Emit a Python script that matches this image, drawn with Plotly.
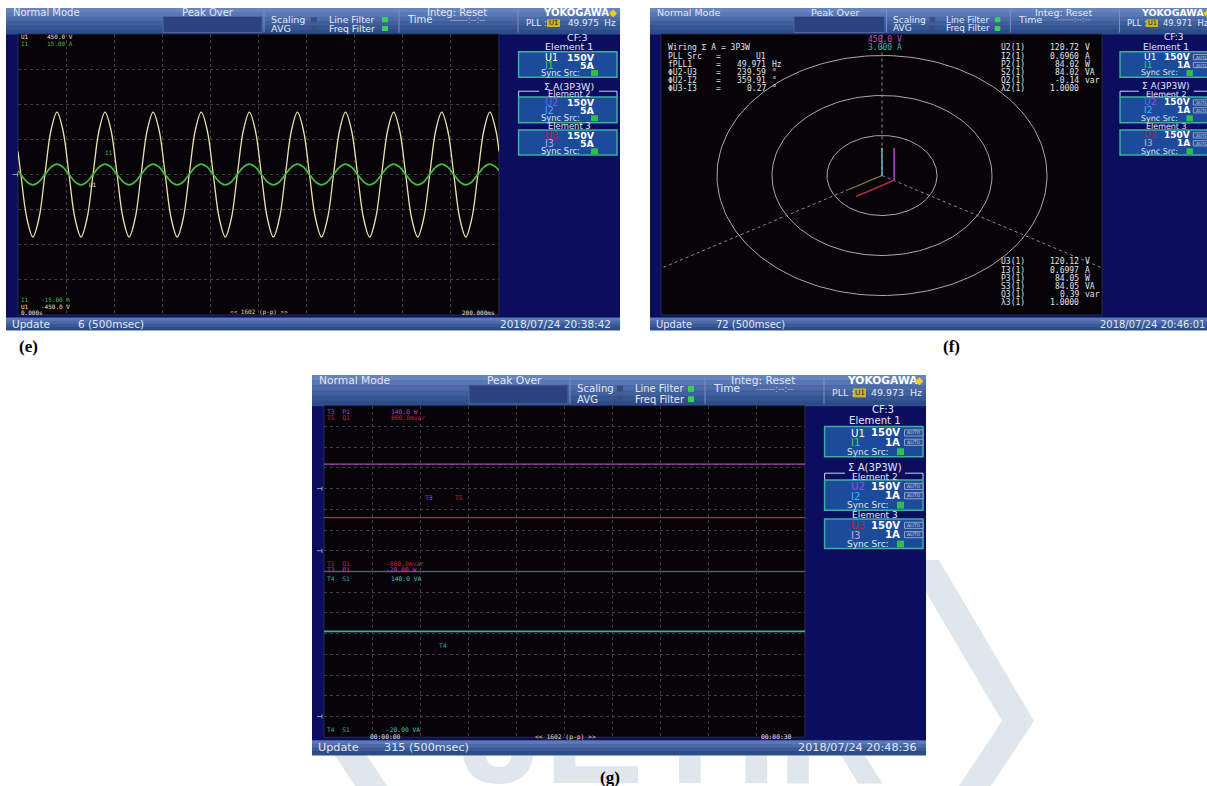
import math
import plotly.graph_objects as go

# ---------------------------------------------------------------------------
# (e) waveform display: U1 / I1 over one 200 ms sweep
# ---------------------------------------------------------------------------
wave_t_ms = [0.0,
             1.2, 3.7, 6.2, 8.7, 11.2, 13.7, 16.2, 18.7,
             21.2, 23.7, 26.2, 28.7, 31.2, 33.7, 36.2, 38.7,
             41.2, 43.7, 46.2, 48.7, 51.2, 53.7, 56.2, 58.7,
             61.2, 63.7, 66.2, 68.7, 71.2, 73.7, 76.2, 78.7,
             81.2, 83.7, 86.2, 88.7, 91.2, 93.7, 96.2, 98.7,
             101.2, 103.7, 106.2, 108.7, 111.2, 113.7, 116.2, 118.7,
             121.2, 123.7, 126.2, 128.7, 131.2, 133.7, 136.2, 138.7,
             141.2, 143.7, 146.2, 148.7, 151.2, 153.7, 156.2, 158.7,
             161.2, 163.7, 166.2, 168.7, 171.2, 173.7, 176.2, 178.7,
             181.2, 183.7, 186.2, 188.7, 191.2, 193.7, 196.2, 198.7,
             200.0]
u1_volts = [74,
            0, -141, -200, -141, 0, 141, 200, 141,
            0, -141, -200, -141, 0, 141, 200, 141,
            0, -141, -200, -141, 0, 141, 200, 141,
            0, -141, -200, -141, 0, 141, 200, 141,
            0, -141, -200, -141, 0, 141, 200, 141,
            0, -141, -200, -141, 0, 141, 200, 141,
            0, -141, -200, -141, 0, 141, 200, 141,
            0, -141, -200, -141, 0, 141, 200, 141,
            0, -141, -200, -141, 0, 141, 200, 141,
            0, -141, -200, -141, 0, 141, 200, 141,
            74]
i1_amps = [0.41,
           0, -0.78, -1.1, -0.78, 0, 0.78, 1.1, 0.78,
           0, -0.78, -1.1, -0.78, 0, 0.78, 1.1, 0.78,
           0, -0.78, -1.1, -0.78, 0, 0.78, 1.1, 0.78,
           0, -0.78, -1.1, -0.78, 0, 0.78, 1.1, 0.78,
           0, -0.78, -1.1, -0.78, 0, 0.78, 1.1, 0.78,
           0, -0.78, -1.1, -0.78, 0, 0.78, 1.1, 0.78,
           0, -0.78, -1.1, -0.78, 0, 0.78, 1.1, 0.78,
           0, -0.78, -1.1, -0.78, 0, 0.78, 1.1, 0.78,
           0, -0.78, -1.1, -0.78, 0, 0.78, 1.1, 0.78,
           0, -0.78, -1.1, -0.78, 0, 0.78, 1.1, 0.78,
           0.41]
u1_span = [-450.0, 450.0]
i1_span = [-15.0, 15.0]
sweep_ms = 200.0

# ---------------------------------------------------------------------------
# (f) vector display
# ---------------------------------------------------------------------------
phase_labels = ["PLL Src", "fPLL1", "ΦU2-U3", "ΦU2-I2", "ΦU3-I3"]
phase_values = ["U1", "49.971", "239.59", "359.91", "0.27"]
phase_units = ["", "Hz", "°", "°", "°"]
phase_deg = {"U2-U3": 239.59, "U2-I2": 359.91, "U3-I3": 0.27}

elem2_labels = ["U2(1)", "I2(1)", "P2(1)", "S2(1)", "Q2(1)", "λ2(1)"]
elem2_values = ["120.72", "0.6960", "84.02", "84.02", "-0.14", "1.0000"]
elem3_labels = ["U3(1)", "I3(1)", "P3(1)", "S3(1)", "Q3(1)", "λ3(1)"]
elem3_values = ["120.12", "0.6997", "84.05", "84.05", "0.39", "1.0000"]
meas_units = ["V", "A", "W", "VA", "var", ""]
vector_full_scale = {"V": 450.0, "A": 3.000}

# ---------------------------------------------------------------------------
# (g) trend display, 30 s window
# ---------------------------------------------------------------------------
trend_t_s = [0, 5, 10, 15, 20, 25, 30]
p1_watts = [83.6, 83.6, 83.6, 83.6, 83.6, 83.6, 83.6]
q1_var = [-0.28, -0.28, -0.28, -0.28, -0.28, -0.28, -0.28]
s1_va = [82.2, 82.2, 82.2, 82.2, 82.2, 82.2, 82.2]
p1_span = [-20.0, 140.0]
q1_span = [-0.8, 0.8]
s1_span = [-20.0, 140.0]
trend_ticks = ["00:00:00", "00:00:30"]

# ---------------------------------------------------------------------------
W, H = 1207, 786
UI = "DejaVu Sans"
MONO = "DejaVu Sans Mono"
SERIF = "Liberation Serif"
NAVY = "#0b0d5e"
PLOT_BG = "#060409"
TXT = "#e2e6f5"
HEADER_SHADES = ["#6684be", "#5978b3", "#4c6ba8", "#40609d", "#365692", "#2d4c8a"]
STATUS_SHADES = ["#5a79b6", "#4a69a6", "#3a5996", "#2d4c88"]
GRID = "#3e3e3e"

C_U1, C_I1 = "#ece2a8", "#48b848"
C_P, C_Q, C_S = "#b640c4", "#c8233f", "#3fa9a2"

shapes, annos = [], []


def fx(x):
    return x / W


def fy(y):
    return 1 - y / H


def rect(x0, y0, x1, y1, fill, line=None, lw=1):
    shapes.append(dict(type="rect", xref="paper", yref="paper", layer="below",
                       x0=fx(x0), x1=fx(x1), y0=fy(y1), y1=fy(y0), fillcolor=fill,
                       line=dict(color=line if line else fill, width=lw if line else 0)))


def seg(x0, y0, x1, y1, color, lw=1, dash="solid"):
    shapes.append(dict(type="line", xref="paper", yref="paper", layer="below",
                       x0=fx(x0), y0=fy(y0), x1=fx(x1), y1=fy(y1),
                       line=dict(color=color, width=lw, dash=dash)))


def poly(pts, fill):
    path = "M " + " L ".join(f"{fx(a):.5f},{fy(b):.5f}" for a, b in pts) + " Z"
    shapes.append(dict(type="path", xref="paper", yref="paper", layer="below",
                       path=path, fillcolor=fill, line=dict(width=0)))


def label(x, y, s, color=TXT, size=9.3, anchor="left", family=UI):
    annos.append(dict(xref="paper", yref="paper", x=fx(x), y=fy(y), text=s,
                      showarrow=False, xanchor=anchor, yanchor="middle", borderpad=0,
                      font=dict(family=family, size=size, color=color)))


class Panel:
    def __init__(self, ox, oy, sx, sy, fs):
        self.ox, self.oy, self.sx, self.sy, self.fs = ox, oy, sx, sy, fs

    def x(self, r):
        return self.ox + r * self.sx

    def y(self, r):
        return self.oy + r * self.sy

    def plot_box(self):
        return self.x(12), self.y(26), self.x(493), self.y(307)


def element_box(p, top, bottom, uname, ucol, iname, icol, irange, auto):
    X, Y, k = p.x, p.y, p.fs
    rect(X(512.6), Y(top), X(611), Y(bottom), "#1d4b9b", line="#3daf9d", lw=1.5)
    label(X(538), Y(top + 5.4), uname, ucol, 9.6 * k)
    label(X(589.5), Y(top + 5.4), "<b>150V</b>", "#ffffff", 9.5 * k, "right")
    label(X(538), Y(top + 13.3), iname, icol, 9.6 * k)
    label(X(589.5), Y(top + 13.3), f"<b>{irange}</b>", "#ffffff", 9.5 * k, "right")
    label(X(534), Y(top + 21.2), "Sync Src:", "#dfe4f6", 8.4 * k)
    rect(X(585), Y(top + 18.4), X(592), Y(top + 24.2), "#2fbf4c")
    if auto:
        for r in (5.4, 13.3):
            rect(X(592.5), Y(top + r - 2.6), X(611), Y(top + r + 2.6), "#2a4f96",
                 line="#a9b6d6", lw=0.8)
            label(X(601.7), Y(top + r), "AUTO", "#c5cde6", 4.4 * k, "center")


def chrome(p, pll, update_no, stamp, irange, auto):
    X, Y, k = p.x, p.y, p.fs
    hs = 10.0 * k
    rect(X(0), Y(0), X(614), Y(322), NAVY)
    n = len(HEADER_SHADES)
    for i, c in enumerate(HEADER_SHADES):
        rect(X(0), Y(26 * i / n), X(614), Y(26 * (i + 1) / n) + 0.6, c)
    n = len(STATUS_SHADES)
    for i, c in enumerate(STATUS_SHADES):
        rect(X(0), Y(309.5 + 12.5 * i / n), X(614), Y(309.5 + 12.5 * (i + 1) / n) + 0.6, c)
    x0, y0, x1, y1 = p.plot_box()
    rect(x0, y0, x1, y1, PLOT_BG, line="#2a2a55", lw=1)

    # header
    for r in (258, 393, 512):
        seg(X(r), Y(1.5), X(r), Y(24.5), "#7a90c4")
    rect(X(157), Y(8.5), X(256), Y(24.5), "#2a4380", line="#4d64a0")
    label(X(6), Y(4.6), "Normal Mode", size=hs)
    label(X(202), Y(4.6), "Peak Over", size=hs, anchor="center")
    label(X(264), Y(11.8), "Scaling", size=hs * 0.95)
    label(X(264), Y(20.4), "AVG", size=hs * 0.95)
    rect(X(305), Y(9.2), X(311), Y(14.2), "#3b4d80")
    rect(X(305), Y(18), X(311), Y(23), "#3b4d80")
    label(X(322), Y(11.8), "Line Filter", size=hs * 0.93)
    label(X(322), Y(20.4), "Freq Filter", size=hs * 0.93)
    rect(X(376), Y(9.2), X(382), Y(14.2), "#3ad060")
    rect(X(376), Y(18), X(382), Y(23), "#3ad060")
    label(X(400), Y(11.8), "Time", size=hs)
    label(X(451), Y(4.6), "Integ: Reset", size=hs, anchor="center")
    label(X(443), Y(11.8), "------:--:--", "#a8b4d8", hs * 0.82)
    label(X(570), Y(4.6), "<b>YOKOGAWA</b>", "#ffffff", hs, "center")
    label(X(607), Y(4.6), "◆", "#f2cc1a", hs, "center")
    label(X(519), Y(15.2), "PLL :", size=hs * 0.88)
    rect(X(541), Y(11.4), X(554), Y(19), "#c9b52a")
    label(X(547.5), Y(15.2), "U1", "#1a1a1a", hs * 0.68, "center")
    label(X(611), Y(15.2), f"{pll}  Hz", size=hs * 0.88, anchor="right")

    # status bar
    label(X(5), Y(316), "Update", size=hs * 1.05)
    label(X(71), Y(316), f"{update_no} (500msec)", size=hs * 1.05)
    label(X(606), Y(316), stamp, size=hs * 1.05, anchor="right")

    # range panel on the right
    label(X(571), Y(29.2), "CF:3", size=hs * 0.95, anchor="center")
    label(X(563), Y(38.6), "Element 1", size=hs * 0.95, anchor="center")
    element_box(p, 43.7, 69.3, "U1", "#ffffff", "I1", "#3ccc55", irange, auto)
    label(X(563), Y(78.4), "Σ A(3P3W)", size=hs * 0.95, anchor="center")
    seg(X(512.6), Y(83.2), X(533), Y(83.2), "#cdd5ef")
    seg(X(593), Y(83.2), X(611), Y(83.2), "#cdd5ef")
    seg(X(512.6), Y(83.2), X(512.6), Y(89), "#cdd5ef")
    seg(X(611), Y(83.2), X(611), Y(89), "#cdd5ef")
    label(X(563), Y(86.4), "Element 2", size=hs * 0.84, anchor="center")
    element_box(p, 89, 114.7, "U2", "#9b45e6", "I2", "#2fb6f5", irange, auto)
    label(X(563), Y(118.4), "Element 3", size=hs * 0.84, anchor="center")
    element_box(p, 122, 147, "U3", "#b4223c", "I3", "#c3a9cf", irange, auto)


def ground_mark(x, y):
    seg(x, y, x + 5, y, "#9a9a9a", 1)
    seg(x + 5, y - 2, x + 5, y + 2, "#9a9a9a", 1)


def fmt(v, unit):
    return f"{v:.1f} {unit}" if abs(v) >= 100 else f"{v:.2f} {unit}"


# ---------------------------------------------------------------------------
# page background lettering and chevrons (behind everything)
# ---------------------------------------------------------------------------
WM = "#e0e7ec"
poly([(907, 560), (939, 560), (1034, 721), (991, 786), (959, 786), (1002, 721)], WM)
poly([(439, 560), (407, 560), (312, 721), (355, 786), (387, 786), (344, 721)], WM)

# ---------------------------------------------------------------------------
pe = Panel(6, 8, 1.0, 1.0, 1.0)
pf = Panel(650, 8, 0.917, 1.0, 0.95)
pg = Panel(312, 375, 1.0, 1.18, 1.07)

chrome(pe, "49.975", 6, "2018/07/24 20:38:42", "5A", False)
chrome(pf, "49.971", 72, "2018/07/24 20:46:01", "1A", True)
chrome(pg, "49.973", 315, "2018/07/24 20:48:36", "1A", True)

fig = go.Figure()

# ---- (e) waveforms ----
ex0, ey0, ex1, ey1 = pe.plot_box()
fig.add_trace(go.Scatter(x=wave_t_ms, y=u1_volts, mode="lines", xaxis="x", yaxis="y",
                         line=dict(color=C_U1, width=1.3, shape="spline", smoothing=1.0),
                         hoverinfo="skip"))
fig.add_trace(go.Scatter(x=wave_t_ms, y=i1_amps, mode="lines", xaxis="x", yaxis="y7",
                         line=dict(color=C_I1, width=1.7, shape="spline", smoothing=1.0),
                         hoverinfo="skip"))
SM = 6.0
label(20, 36.8, "U1", C_U1, SM, family=MONO)
label(46, 36.8, fmt(u1_span[1], "V"), C_U1, SM, family=MONO)
label(20, 43.6, "I1", C_I1, SM, family=MONO)
label(46, 43.6, fmt(i1_span[1], "A"), C_I1, SM, family=MONO)
label(20, 299.6, "I1", C_I1, SM, family=MONO)
label(40, 299.6, fmt(i1_span[0], "A"), C_I1, SM, family=MONO)
label(20, 306, "U1", C_U1, SM, family=MONO)
label(40, 306, fmt(u1_span[0], "V"), C_U1, SM, family=MONO)
label(20, 312.3, "0.000s", "#e8e8e8", SM, family=MONO)
label(259, 312.3, "<< 1602 (p-p) >>", "#e4dba2", SM, "center", MONO)
label(496, 312.3, f"{sweep_ms:.3f}ms", "#e8e8e8", SM, "right", MONO)
label(104, 153, "I1", C_I1, SM, family=MONO)
label(88, 184, "U1", C_U1, SM, family=MONO)
ground_mark(12.5, (ey0 + ey1) / 2)

# ---- (f) vector diagram ----
fx0, fy0, fx1, fy1 = pf.plot_box()
f_cx, f_cy = 882.0, 175.5          # diagram centre on the page
f_ux, f_uy = 55.0, 40.0            # page pixels per ring step
f_xr = [(fx0 - f_cx) / f_ux, (fx1 - f_cx) / f_ux]
f_yr = [(f_cy - fy1) / f_uy, (f_cy - fy0) / f_uy]

ring_t = [i * 2 * math.pi / 180 for i in range(181)]
for r in (1, 2, 3):
    fig.add_trace(go.Scatter(x=[r * math.cos(t) for t in ring_t],
                             y=[r * math.sin(t) for t in ring_t],
                             mode="lines", xaxis="x2", yaxis="y2",
                             line=dict(color="#a9a9a9", width=1), hoverinfo="skip"))
for ang in (90, 210, 330):
    a = math.radians(ang)
    reach = 9.0
    fig.add_trace(go.Scatter(x=[0, reach * math.cos(a)], y=[0, reach * math.sin(a)],
                             mode="lines", xaxis="x2", yaxis="y2", cliponaxis=True,
                             line=dict(color="#8e8e8e", width=1, dash="dot"),
                             hoverinfo="skip"))

u2_mag = float(elem2_values[0]) / vector_full_scale["V"] * 3
u3_mag = float(elem3_values[0]) / vector_full_scale["V"] * 3
i2_mag = float(elem2_values[1]) / vector_full_scale["A"] * 3
i3_mag = float(elem3_values[1]) / vector_full_scale["A"] * 3
u2_ang = 90.0
u3_ang = u2_ang - phase_deg["U2-U3"]
i2_ang = u2_ang - phase_deg["U2-I2"]
i3_ang = u3_ang - phase_deg["U3-I3"]
u_origin = (0.22, -0.12)
vectors = [
    ((0.0, 0.0), i3_mag, i3_ang, "#8c7448", 1.2),
    ((0.0, 0.0), i2_mag, i2_ang, "#67b9c6", 1.5),
    (u_origin, u2_mag, u2_ang, "#b24ccc", 1.5),
    (u_origin, u3_mag, u3_ang, "#b02a3c", 1.5),
]
for (ox, oy), mag, ang, col, lw in vectors:
    a = math.radians(ang)
    fig.add_trace(go.Scatter(x=[ox, ox + mag * math.cos(a)], y=[oy, oy + mag * math.sin(a)],
                             mode="lines", xaxis="x2", yaxis="y2",
                             line=dict(color=col, width=lw), hoverinfo="skip"))

FS = 8.0
FC = "#e4e4e4"
label(885, 39.6, "450.0 V", "#c24fc4", FS, "center", MONO)
label(885, 47.8, "3.000 A", "#3db0b0", FS, "center", MONO)
label(667, 48, "Wiring Σ A = 3P3W", FC, FS, family=MONO)
for i, (lb, val, un) in enumerate(zip(phase_labels, phase_values, phase_units)):
    yy = 56.2 + 8.2 * i
    label(667, yy, lb, FC, FS, family=MONO)
    label(718, yy, "=", FC, FS, "center", MONO)
    label(767, yy, val, FC, FS, "right", MONO)
    if un:
        label(771, yy, un, FC, FS, family=MONO)
for i, (lb, val, un) in enumerate(zip(elem2_labels, elem2_values, meas_units)):
    yy = 48 + 8.2 * i
    label(1000, yy, lb, FC, FS, family=MONO)
    label(1080, yy, val, FC, FS, "right", MONO)
    label(1084, yy, un, FC, FS, family=MONO)
for i, (lb, val, un) in enumerate(zip(elem3_labels, elem3_values, meas_units)):
    yy = 262 + 8.2 * i
    label(1000, yy, lb, FC, FS, family=MONO)
    label(1080, yy, val, FC, FS, "right", MONO)
    label(1084, yy, un, FC, FS, family=MONO)

# ---- (g) trend windows ----
gx0, gy0, gx1, gy1 = pg.plot_box()
g_mid = (gy0 + gy1) / 2
fig.add_trace(go.Scatter(x=trend_t_s, y=p1_watts, mode="lines", xaxis="x3", yaxis="y3",
                         line=dict(color=C_P, width=1.4), hoverinfo="skip"))
fig.add_trace(go.Scatter(x=trend_t_s, y=q1_var, mode="lines", xaxis="x3", yaxis="y5",
                         line=dict(color=C_Q, width=1.4), hoverinfo="skip"))
fig.add_trace(go.Scatter(x=trend_t_s, y=s1_va, mode="lines", xaxis="x4", yaxis="y4",
                         line=dict(color=C_S, width=1.6), hoverinfo="skip"))
seg(gx0, g_mid, gx1, g_mid, "#5a5a5a", 1.5)

GS = 6.3
label(326, 411.5, "T3  P1", C_P, GS, family=MONO)
label(390, 411.5, fmt(p1_span[1], "W"), C_P, GS, family=MONO)
label(326, 417.8, "T5  Q1", C_Q, GS, family=MONO)
label(390, 417.8, f"{q1_span[1] * 1000:.1f}mvar", C_Q, GS, family=MONO)
label(326, 563.3, "T5  Q1", C_Q, GS, family=MONO)
label(385, 563.3, f"{q1_span[0] * 1000:.1f}mvar", C_Q, GS, family=MONO)
label(326, 569.6, "T3  P1", C_P, GS, family=MONO)
label(385, 569.6, fmt(p1_span[0], "W"), C_P, GS, family=MONO)
label(326, 578, "T4  S1", C_S, GS, family=MONO)
label(390, 578, fmt(s1_span[1], "VA"), "#55c0c0", GS, family=MONO)
label(326, 729.4, "T4  S1", C_S, GS, family=MONO)
label(385, 729.4, fmt(s1_span[0], "VA"), "#55c0c0", GS, family=MONO)
label(385, 736.9, trend_ticks[0], "#e8e8e8", GS, "center", MONO)
label(565, 736.9, "<< 1602 (p-p) >>", "#e4dba2", GS, "center", MONO)
label(777, 736.9, trend_ticks[1], "#e8e8e8", GS, "center", MONO)
label(424, 498, "T3", C_P, GS, family=MONO)
label(454, 498, "T5", C_Q, GS, family=MONO)
label(438, 645, "T4", C_S, GS, family=MONO)
for frac_top, frac_bottom, span in ((gy0, g_mid, q1_span), (gy0, g_mid, p1_span),
                                    (g_mid, gy1, s1_span)):
    zero_y = frac_bottom - (0 - span[0]) / (span[1] - span[0]) * (frac_bottom - frac_top)
    ground_mark(gx0 - 7, zero_y)

# ---- faint lettering at the foot of the page (clipped to the strip below (g)) ----
fig.add_trace(go.Scatter(x=[673], y=[-745], mode="text", text=["<b>JETIR</b>"],
                         textposition="middle center", cliponaxis=True,
                         textfont=dict(family="Liberation Sans", size=150, color=WM),
                         xaxis="x6", yaxis="y6", hoverinfo="skip"))

# ---- sub-figure captions ----
label(28, 346, "<b>(e)</b>", "#000000", 17, "center", SERIF)
label(951, 346, "<b>(f)</b>", "#000000", 17, "center", SERIF)
label(610, 777, "<b>(g)</b>", "#000000", 17, "center", SERIF)


def grid_axis(domain, rng, dtick, tick0, anchor, **kw):
    d = dict(domain=domain, range=rng, dtick=dtick, tick0=tick0, anchor=anchor,
             showgrid=True, gridcolor=GRID, griddash="dot", gridwidth=1,
             zeroline=False, showline=False, ticks="", showticklabels=False,
             fixedrange=True)
    d.update(kw)
    return d


def bare_axis(domain, rng, anchor, **kw):
    d = dict(domain=domain, range=rng, anchor=anchor, visible=False, fixedrange=True)
    d.update(kw)
    return d


fig.update_layout(
    width=W, height=H, margin=dict(l=0, r=0, t=0, b=0),
    paper_bgcolor="#ffffff", plot_bgcolor="rgba(0,0,0,0)", showlegend=False,
    shapes=shapes, annotations=annos,
    xaxis=grid_axis([fx(ex0), fx(ex1)], [0, sweep_ms], sweep_ms / 10, 0, "y"),
    yaxis=grid_axis([fy(ey1), fy(ey0)], u1_span, (u1_span[1] - u1_span[0]) / 8, 0, "x"),
    yaxis7=bare_axis([fy(ey1), fy(ey0)], i1_span, "x", overlaying="y"),
    xaxis2=bare_axis([fx(fx0), fx(fx1)], f_xr, "y2"),
    yaxis2=bare_axis([fy(fy1), fy(fy0)], f_yr, "x2"),
    xaxis3=grid_axis([fx(gx0), fx(gx1)], [0, 30], 3, 0, "y3"),
    yaxis3=grid_axis([fy(g_mid), fy(gy0)], p1_span, 20, -20, "x3"),
    yaxis5=bare_axis([fy(g_mid), fy(gy0)], q1_span, "x3", overlaying="y3"),
    xaxis4=grid_axis([fx(gx0), fx(gx1)], [0, 30], 3, 0, "y4"),
    yaxis4=grid_axis([fy(gy1), fy(g_mid)], s1_span, 20, -20, "x4"),
    xaxis6=bare_axis([0, 1], [0, W], "y6"),
    yaxis6=bare_axis([0, fy(756)], [-786, -756], "x6"),
)

fig.write_html("out.html")
